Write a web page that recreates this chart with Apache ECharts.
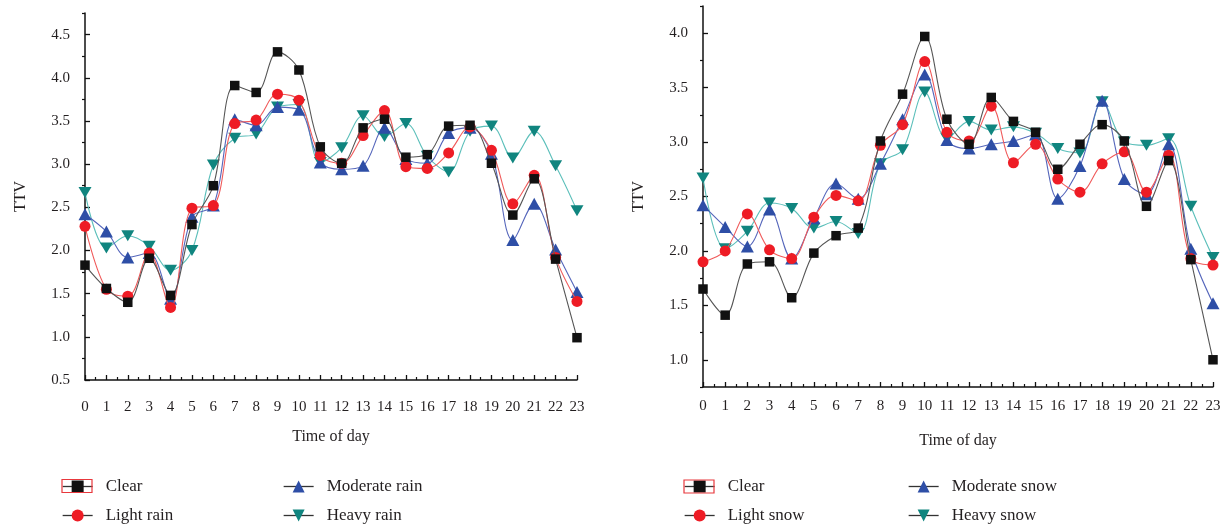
<!DOCTYPE html>
<html>
<head>
<meta charset="utf-8">
<script src="https://cdn.jsdelivr.net/npm/echarts@6/dist/echarts.min.js"></script>
<style>
html,body{margin:0;padding:0;background:#fff;}
#c{width:1229px;height:527px;}
</style>
</head>
<body>
<div id="c"></div>
<script>
// ---- data ----
const hours = [0,1,2,3,4,5,6,7,8,9,10,11,12,13,14,15,16,17,18,19,20,21,22,23];

const clearRain    = [1.83,1.56,1.40,1.91,1.48,2.30,2.75,3.91,3.83,4.30,4.09,3.20,3.01,3.42,3.52,3.08,3.11,3.44,3.45,3.01,2.41,2.83,1.90,0.99];
const lightRain    = [2.28,1.55,1.47,1.97,1.34,2.49,2.52,3.47,3.51,3.81,3.74,3.10,3.01,3.33,3.62,2.97,2.95,3.13,3.43,3.16,2.54,2.87,1.92,1.41];
const moderateRain = [2.42,2.22,1.92,1.97,1.44,2.39,2.52,3.52,3.45,3.66,3.63,3.02,2.94,2.98,3.42,3.06,3.01,3.36,3.42,3.12,2.12,2.54,2.01,1.52];
const heavyRain    = [2.67,2.03,2.17,2.05,1.77,2.00,2.99,3.30,3.35,3.66,3.69,3.02,3.19,3.56,3.32,3.47,3.09,2.91,3.38,3.44,3.07,3.38,2.98,2.46];

const clearSnow    = [1.65,1.41,1.88,1.90,1.57,1.98,2.14,2.21,3.01,3.44,3.97,3.21,2.98,3.41,3.19,3.09,2.75,2.98,3.16,3.01,2.41,2.83,1.92,1.00];
const lightSnow    = [1.90,2.00,2.34,2.01,1.93,2.31,2.51,2.46,2.97,3.16,3.74,3.09,3.01,3.33,2.81,2.98,2.66,2.54,2.80,2.91,2.54,2.88,1.93,1.87];
const moderateSnow = [2.42,2.22,2.04,2.38,1.93,2.30,2.62,2.48,2.80,3.21,3.62,3.02,2.94,2.98,3.01,3.07,2.48,2.78,3.38,2.66,2.52,2.98,2.02,1.52];
const heavySnow    = [2.67,2.02,2.18,2.44,2.39,2.21,2.27,2.16,2.80,2.93,3.46,3.03,3.19,3.11,3.14,3.08,2.94,2.90,3.37,3.00,2.97,3.03,2.41,1.94];

const leftYTicks  = [0.5,1.0,1.5,2.0,2.5,3.0,3.5,4.0,4.5];
const leftYMinor  = [0.75,1.25,1.75,2.25,2.75,3.25,3.75,4.25,4.75];
const rightYTicks = [1.0,1.5,2.0,2.5,3.0,3.5,4.0];
const rightYMinor = [0.75,1.25,1.75,2.25,2.75,3.25,3.75,4.25];

const rainNames = ['Clear','Light rain','Moderate rain','Heavy rain'];
const snowNames = ['Clear','Light snow','Moderate snow','Heavy snow'];

// ---- styles ----
const FONT = '"Liberation Serif", "DejaVu Serif", serif';
const TXT = '#231f20';
const styles = [
  {symbol:'rect', size:9.5, item:'#111111', line:'#555555'},
  {symbol:'circle', size:11, item:'#ee1c25', line:'#f05a5a'},
  {symbol:'triangle', size:[13,12], item:'#2e4ea6', line:'#5566bb'},
  {symbol:'path://M0,0L2,0L1,1.732Z', size:[13,11], item:'#10857f', line:'#5bbfba'}
];

const grids = [
  {left:85, top:13, width:492, height:367},
  {left:703, top:6, width:510, height:381}
];

function xAxisFor(gi, margin, nameGap){
  return {
    type:'value', gridIndex:gi, min:0, max:23, interval:1,
    axisLine:{show:true, onZero:false, lineStyle:{color:'#111', width:1.5}},
    axisTick:{show:true, inside:true, length:5, lineStyle:{color:'#111', width:1.3}},
    minorTick:{show:true, splitNumber:2, length:3, lineStyle:{color:'#111', width:1.2}},
    splitLine:{show:false},
    axisLabel:{margin:margin, fontFamily:FONT, fontSize:15, color:TXT, formatter:v=>String(v)},
    name:'Time of day', nameLocation:'middle', nameGap:nameGap,
    nameTextStyle:{fontFamily:FONT, fontSize:16, color:TXT}
  };
}
function yAxesFor(gi, min, max, majors, minors){
  return [{
    type:'value', gridIndex:gi, min:min, max:max, interval:0.25,
    axisLine:{show:true, onZero:false, lineStyle:{color:'#111', width:1.5}},
    axisTick:{show:true, inside:true, length:5, customValues:majors, lineStyle:{color:'#111', width:1.3}},
    splitLine:{show:false},
    axisLabel:{margin:15, fontFamily:FONT, fontSize:15, color:TXT, customValues:majors, formatter:v=>Number(v).toFixed(1)},
    name:'TTV', nameLocation:'middle', nameGap:56, nameRotate:90,
    nameTextStyle:{fontFamily:FONT, fontSize:16, color:TXT}
  },{
    type:'value', gridIndex:gi, min:min, max:max, interval:0.25,
    axisLine:{show:false},
    axisTick:{show:true, inside:true, length:3, customValues:minors, lineStyle:{color:'#111', width:1.2}},
    splitLine:{show:false},
    axisLabel:{show:false}
  }];
}

function seriesFor(names, arrays, gi){
  return arrays.map((arr, i) => ({
    name:names[i] + (gi === 1 && i === 0 ? ' ' : ''),
    type:'line', xAxisIndex:gi, yAxisIndex:gi*2,
    data:hours.map((h, k) => [h, arr[k]]),
    smooth:0.35,
    symbol:styles[i].symbol, symbolSize:styles[i].size,
    itemStyle:{color:styles[i].item},
    lineStyle:{color:styles[i].line, width:1.1},
    z:10 - i,
    animation:false
  }));
}

const series = [].concat(
  seriesFor(rainNames, [clearRain, lightRain, moderateRain, heavyRain], 0),
  seriesFor(snowNames, [clearSnow, lightSnow, moderateSnow, heavySnow], 1)
);

function legendItem(name, left, top){
  return {
    data:[name], left:left, top:top, padding:0, itemWidth:30, itemHeight:15,
    selectedMode:false,
    lineStyle:{color:'#333', width:1.3},
    textStyle:{fontFamily:FONT, fontSize:17, color:TXT, padding:[0,0,0,8]}
  };
}
const legends = [
  legendItem('Clear', 62, 478), legendItem('Moderate rain', 283, 478),
  legendItem('Light rain', 62, 507), legendItem('Heavy rain', 283, 507),
  legendItem('Clear ', 684, 478), legendItem('Moderate snow', 908, 478),
  legendItem('Light snow', 684, 507), legendItem('Heavy snow', 908, 507)
];

const chart = echarts.init(document.getElementById('c'), null, {renderer:'canvas'});
chart.setOption({
  animation:false,
  backgroundColor:'#ffffff',
  grid:grids,
  xAxis:[xAxisFor(0, 20, 49), xAxisFor(1, 12, 46)],
  yAxis:[].concat(yAxesFor(0, 0.5, 4.75, leftYTicks, leftYMinor), yAxesFor(1, 0.75, 4.25, rightYTicks, rightYMinor)),
  legend:legends,
  graphic:[
    {type:'rect', shape:{x:62, y:479.5, width:30, height:13}, style:{fill:'none', stroke:'#e8383d', lineWidth:1.2}, z:100},
    {type:'rect', shape:{x:684, y:480, width:30, height:13}, style:{fill:'none', stroke:'#e8383d', lineWidth:1.2}, z:100}
  ],
  series:series
});
</script>
</body>
</html>
